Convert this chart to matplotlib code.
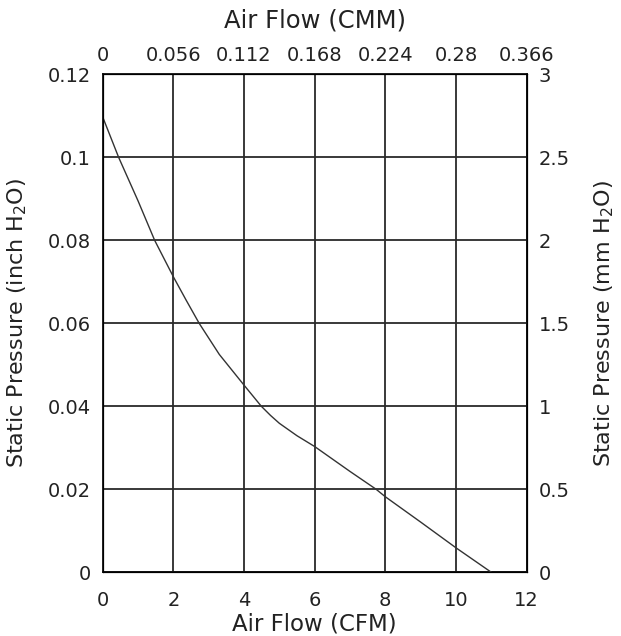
import numpy as np
import matplotlib.pyplot as plt

# curve: air flow (CFM) vs static pressure (inch H2O)
cfm = [0, 0.45, 1.0, 1.47, 2, 2.36, 2.73, 3.3, 4, 4.49, 4.75, 5, 5.5, 6,
       7, 7.74, 8, 9, 10, 11]
inh2o = [0.1097, 0.1, 0.0895, 0.08, 0.0712, 0.0656, 0.06, 0.0525, 0.0451,
         0.04, 0.0378, 0.0359, 0.0329, 0.0303, 0.0243, 0.02, 0.0182,
         0.0121, 0.0059, 0.0]

x_ticks = [0, 2, 4, 6, 8, 10, 12]
y_ticks = [0, 0.02, 0.04, 0.06, 0.08, 0.1, 0.12]
y_labels = ['0', '0.02', '0.04', '0.06', '0.08', '0.1', '0.12']
cmm_labels = ['0', '0.056', '0.112', '0.168', '0.224', '0.28', '0.366']
mm_labels = ['0', '0.5', '1', '1.5', '2', '2.5', '3']

tfs = 14     # tick labels
lfs = 16     # axis titles
ink = '#222222'
plt.rcParams['font.family'] = ['DejaVu Sans']
plt.rcParams['text.color'] = ink
plt.rcParams['axes.labelcolor'] = ink

fig = plt.figure(figsize=(6.21, 6.36), dpi=100)
ax = fig.add_axes([0.1654, 0.1002, 0.6826, 0.783])

ax.plot(cfm, inh2o, color='#333333', lw=1.0, zorder=3)
ax.set_xlim(0, 12)
ax.set_ylim(0, 0.12)
ax.set_xticks(x_ticks)
ax.set_yticks(y_ticks)
ax.set_yticklabels(y_labels)
ax.grid(True, color='#2a2a2a', lw=1.3)
ax.tick_params(axis='x', length=0, labelsize=tfs, pad=13.5, labelcolor=ink)
ax.tick_params(axis='y', length=0, labelsize=tfs, pad=8.6, labelcolor=ink)
ax.set_xlabel('Air Flow (CFM)', fontsize=lfs + 0.5, labelpad=1.5)
ax.set_ylabel('Static Pressure (inch H$_2$O)', fontsize=lfs, labelpad=13)
for s in ax.spines.values():
    s.set_linewidth(1.3)
    s.set_color('#111111')

top = ax.twiny()
top.set_xlim(0, 12)
top.set_xticks(x_ticks)
top.set_xticklabels(cmm_labels)
top.tick_params(length=0, labelsize=tfs, pad=7, labelcolor=ink)
top.set_xlabel('Air Flow (CMM)', fontsize=17.5, labelpad=12.8)

right = ax.twinx()
right.set_ylim(0, 0.12)
right.set_yticks(y_ticks)
right.set_yticklabels(mm_labels)
right.tick_params(length=0, labelsize=tfs, pad=8.7, labelcolor=ink)
right.set_ylabel('Static Pressure (mm H$_2$O)', fontsize=lfs, labelpad=16)

fig.savefig('out.png', dpi=100, facecolor='white')
